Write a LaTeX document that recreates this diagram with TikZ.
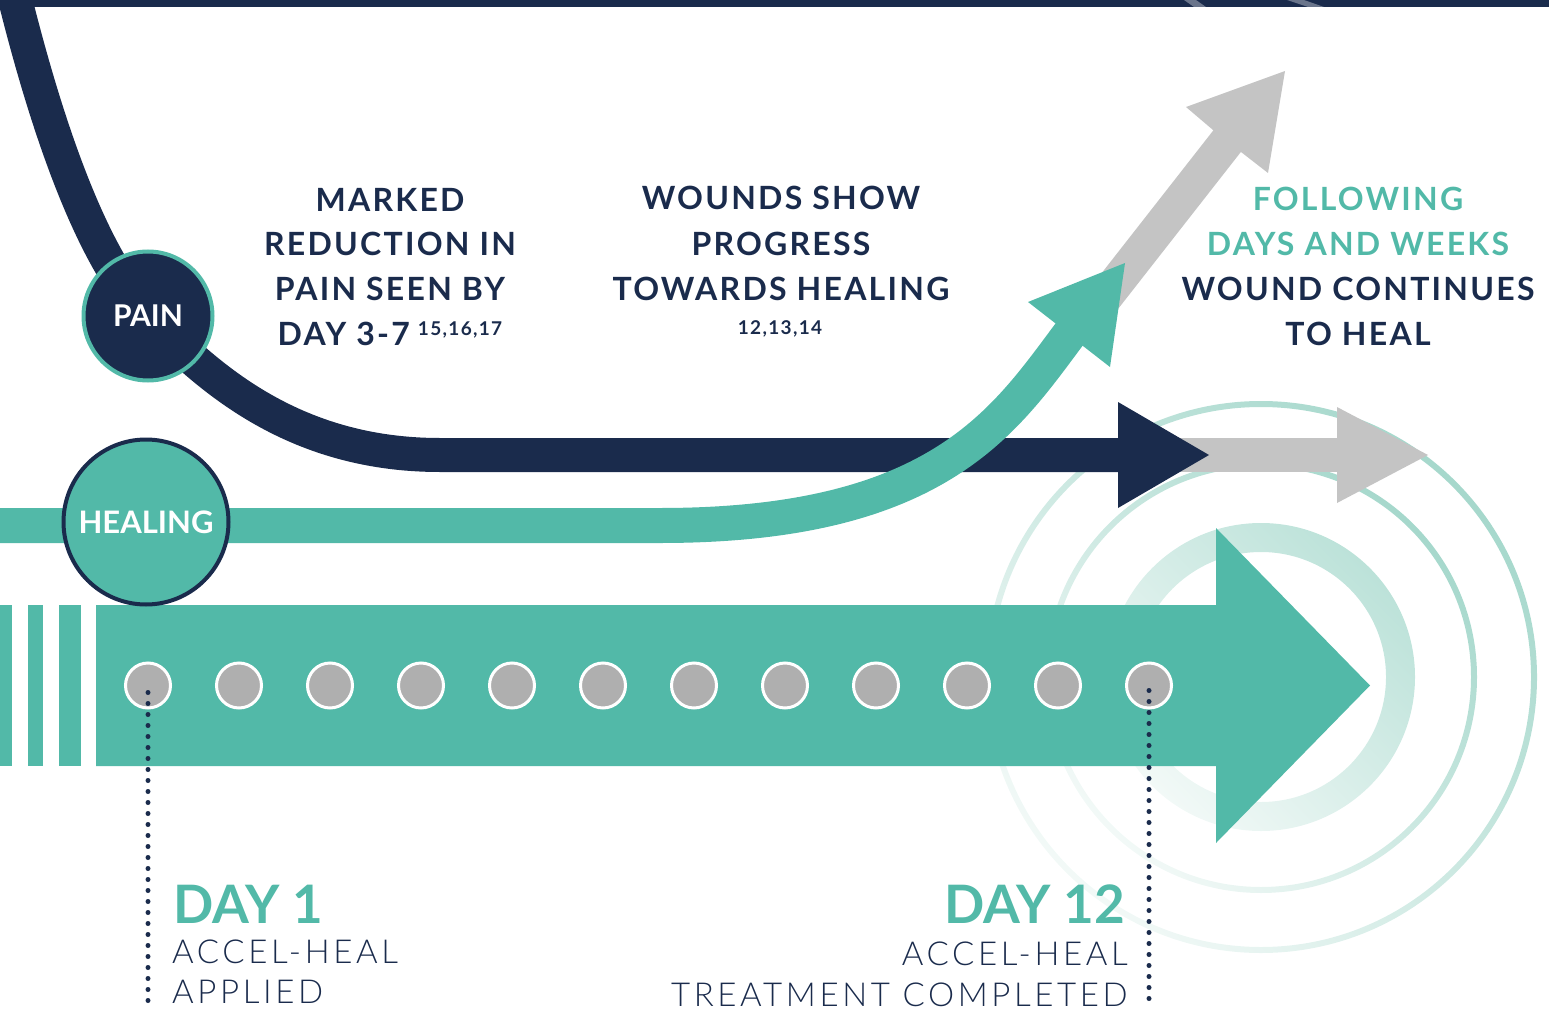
\documentclass[tikz,border=0pt]{standalone}
\usepackage{fontspec}
\setmainfont{Lato}
\newfontfamily\hdfont{Lato}[LetterSpace=7]
\newfontfamily\lightfont{Lato Light}[LetterSpace=11]
\definecolor{navy}{HTML}{1A2B4C}
\definecolor{tealc}{HTML}{52B9A8}
\definecolor{grayA}{HTML}{C4C4C4}
\definecolor{dotgray}{HTML}{AFAFAF}
\definecolor{ringdark}{HTML}{A6D8CC}
\definecolor{ringmid}{HTML}{BCE2D9}
\definecolor{ringlight}{HTML}{F2F9F7}
\tikzset{
  hd/.style={font=\hdfont\fontsize{32}{37}\selectfont\bfseries, text=navy, anchor=base, inner sep=0pt},
  hdt/.style={hd, text=tealc},
  refs/.style={font=\hdfont\fontsize{19}{19}\selectfont\bfseries, text=navy, anchor=base, inner sep=0pt},
  daylbl/.style={font=\fontsize{53}{60}\selectfont\bfseries, text=tealc, inner sep=0pt},
  thinlbl/.style={font=\lightfont\fontsize{33}{37}\selectfont, text=navy, inner sep=0pt},
  dotc/.style={circle, fill=dotgray, draw=white, line width=3pt, minimum size=45pt, inner sep=0pt},
  dotline/.style={navy, line width=5pt, line cap=round, dash pattern=on 0pt off 11pt},
  ringsh/.style={left color=#1, right color=ringlight, shading angle=-45, even odd rule},
}
\begin{document}
\begin{tikzpicture}[x=1pt,y=-1pt]
\useasboundingbox (0,0) rectangle (1549,1024);
% top bar
\fill[navy] (0,0) rectangle (1549,7);
\fill[navy!65!white] (1184,0) -- (1196,0) -- (1206,7) -- (1194,7) -- cycle;
\fill[navy!65!white] (1287,0) -- (1304,0) -- (1324,7) -- (1308,7) -- cycle;
% concentric rings
\coordinate (rc) at (1261,677);
\shade[ringsh=ringdark] (rc) circle [radius=276pt] (rc) circle [radius=270pt];
\shade[ringsh=ringdark] (rc) circle [radius=216pt] (rc) circle [radius=210pt];
\shade[ringsh=ringmid] (rc) circle [radius=154pt] (rc) circle [radius=125pt];
% gray up arrow
\coordinate (gu0) at (1095,310);
\coordinate (gu1) at (1228,140);
\draw[grayA, line width=35pt] (gu0) -- (gu1);
\fill[grayA] (1285,71) -- (1186,107) -- (1213,130) -- (1241,152) -- (1268,173) -- cycle;
% gray right arrow
\coordinate (gr0) at (1150,455);
\coordinate (gr1) at (1340,455);
\draw[grayA, line width=34pt] (gr0) -- (gr1);
\fill[grayA] (1337,407) -- (1428,455) -- (1337,503) -- cycle;
% navy pain curve
\coordinate (p0) at (14,-5);
\coordinate (pc) at (148,316);
\coordinate (p1) at (440,455);
\coordinate (p2) at (1120,455);
\draw[navy, line width=34pt] (p0) .. controls (50,140) and (95,262) .. (pc)
  .. controls (205,374) and (290,455) .. (p1) -- (p2);
\fill[navy] (1118,402) -- (1209,455) -- (1118,508) -- cycle;
% green healing curve
\coordinate (h0) at (-5,525.5);
\coordinate (h1) at (660,525.5);
\coordinate (h2) at (1071,332);
\draw[tealc, line width=35pt] (h0) -- (h1) .. controls (940,525.5) and (1005,420) .. (h2);
\fill[tealc] (1125,263) -- (1028,302) -- (1055,323) -- (1083,346) -- (1110,367) -- cycle;
% big arrow
\fill[tealc] (96,605) -- (1216,605) -- (1216,528) -- (1370,685.5) -- (1216,843) -- (1216,766) -- (96,766) -- cycle;
\fill[tealc] (0,605) rectangle (12,766);
\fill[tealc] (28,605) rectangle (43,766);
\fill[tealc] (59,605) rectangle (81,766);
% circles
\node[circle, fill=navy, draw=tealc, line width=4pt, minimum size=129pt, inner sep=0pt,
  text=white, font=\fontsize{30}{30}\selectfont\bfseries] (pain) at (pc) {PAIN};
\node[circle, fill=tealc, draw=navy, line width=4pt, minimum size=165pt, inner sep=0pt,
  text=white, font=\fontsize{31}{31}\selectfont\bfseries] (healing) at (146,522) {HEALING};
\foreach \i in {0,...,11} {
  \node[dotc] (c\i) at (148+91*\i, 685.5) {};
}
% dotted lines
\coordinate (e1) at (148,1003);
\coordinate (e2) at (1149,1004);
\draw[dotline] ([yshift=-7pt]c0.center) -- (e1);
\draw[dotline] ([yshift=-5pt]c11.center) -- (e2);
% texts
\node[hd] (m1) at (390,211.5) {MARKED};
\node[hd] (m2) at (390,256) {REDUCTION IN};
\node[hd] (m3) at (390,300.5) {PAIN SEEN BY};
\node[hd] (m4) at (390,345) {DAY 3-7\hspace{8pt}\raisebox{10pt}{\fontsize{19}{19}\selectfont 15,16,17}};
\node[hd] (w1) at (781,210) {WOUNDS SHOW};
\node[hd] (w2) at (781,256) {PROGRESS};
\node[hd] (w3) at (781,300) {TOWARDS HEALING};
\node[refs] (w4) at (780,334) {12,13,14};
\node[hdt] (f1) at (1358,210.5) {FOLLOWING};
\node[hdt] (f2) at (1358,255) {DAYS AND WEEKS};
\node[hd] (f3) at (1358,300) {WOUND CONTINUES};
\node[hd] (f4) at (1358,345) {TO HEAL};
\node[daylbl, anchor=base west] (day1) at (173,923) {DAY 1};
\node[thinlbl, anchor=base west] (a1) at (172,963) {ACCEL-HEAL};
\node[thinlbl, anchor=base west] (a2) at (172,1003) {APPLIED};
\node[daylbl, anchor=base east] (day12) at (1125,923) {DAY 12};
\node[thinlbl, anchor=base east] (b1) at (1128,965) {ACCEL-HEAL};
\node[thinlbl, anchor=base east] (b2) at (1128,1006) {TREATMENT COMPLETED};
\end{tikzpicture}
\end{document}
